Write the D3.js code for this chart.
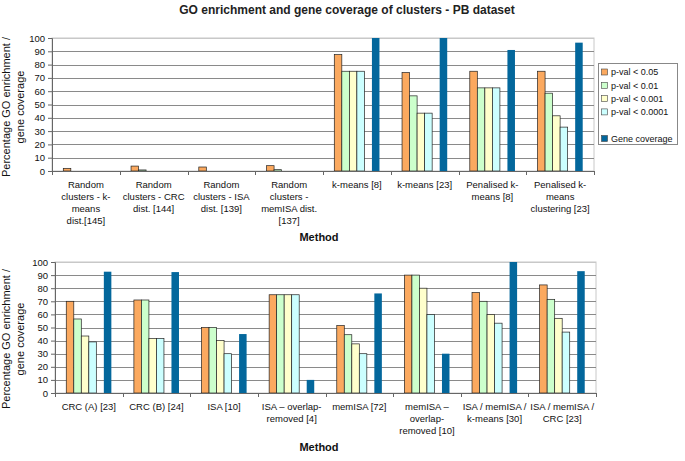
<!DOCTYPE html>
<html><head><meta charset="utf-8">
<script src="https://cdn.jsdelivr.net/npm/d3@7"></script>
<style>body{margin:0;background:#fff}svg{font-family:"Liberation Sans",Arial,sans-serif}</style>
</head><body><svg id="c" width="685" height="461"></svg>
<script>
const seriesKeys = ["p05","p01","p001","p0001","blank","gene"];
const seriesNames = ["p-val < 0.05","p-val < 0.01","p-val < 0.001","p-val < 0.0001","","Gene coverage"];
const seriesColors = ["#FBA95F","#CCFFCC","#FFFFCC","#CCFFFF",null,"#03679C"];
const yTicks = [0,10,20,30,40,50,60,70,80,90,100];

const topCategories = [
  ["Random","clusters - k-","means","dist.[145]"],
  ["Random","clusters - CRC","dist. [144]"],
  ["Random","clusters - ISA","dist. [139]"],
  ["Random","clusters -","memISA dist.","[137]"],
  ["k-means [8]"],
  ["k-means [23]"],
  ["Penalised k-","means [8]"],
  ["Penalised k-","means","clustering [23]"]
];
const topP05   = [2, 3.7, 3, 4, 87.5, 74, 75, 75];
const topP01   = [0, 0.8, 0, 1, 75, 56.5, 62.5, 58.5];
const topP001  = [0, 0, 0, 0, 75, 43.5, 62.5, 41.5];
const topP0001 = [0, 0, 0, 0, 75, 43.5, 62.5, 33];
const topGene  = [0, 0, 0, 0, 100, 100, 91, 96.5];

const botCategories = [
  ["CRC (A) [23]"],
  ["CRC (B) [24]"],
  ["ISA [10]"],
  ["ISA \u2013 overlap-","removed [4]"],
  ["memISA [72]"],
  ["memISA \u2013","overlap-","removed [10]"],
  ["ISA / memISA /","k-means [30]"],
  ["ISA / memISA /","CRC [23]"]
];
const botP05   = [70, 71, 50, 75, 51.5, 90, 76.7, 82.5];
const botP01   = [56.5, 71, 50, 75, 44.5, 90, 70, 71.5];
const botP001  = [43.5, 41.7, 40, 75, 37.5, 80, 60, 57];
const botP0001 = [39, 41.7, 30, 75, 30, 60, 53.3, 46.5];
const botGene  = [92.6, 92.3, 45, 10, 76, 30, 100, 93];

const svg = d3.select("#c");

svg.append("text").attr("x",347).attr("y",14).attr("text-anchor","middle")
  .attr("font-size","12px").attr("font-weight","bold").attr("fill","#222")
  .text("GO enrichment and gene coverage of clusters - PB dataset");

function drawPanel(cfg){
  const {cats, series, left, right, top, bottom, labelY, yTitleCY, methodY} = cfg;
  const g = svg.append("g");
  const idx = d3.range(cats.length);
  const x0 = d3.scaleBand().domain(idx).range([left,right]).paddingInner(1/3).paddingOuter(1/6);
  const x1 = d3.scaleBand().domain(seriesKeys).range([0,x0.bandwidth()]);
  const y = d3.scaleLinear().domain([0,100]).range([bottom,top]);
  const step = (right-left)/cats.length;

  g.append("rect").attr("x",left).attr("y",top).attr("width",right-left).attr("height",bottom-top)
    .attr("fill","#fff").attr("stroke","#c8c8c8").attr("stroke-width",1);
  g.selectAll(".grid").data(yTicks.filter(t=>t>0)).join("line")
    .attr("x1",left).attr("x2",right)
    .attr("y1",d=>Math.round(y(d))+0.5).attr("y2",d=>Math.round(y(d))+0.5)
    .attr("stroke",d=>d===100?"#c8c8c8":"#8a8a8a").attr("stroke-width",1);

  const rows = idx.map(i=>({i, vals: series.map(s=>s[i])}));
  const grp = g.selectAll(".grp").data(rows).join("g").attr("transform",d=>`translate(${x0(d.i)},0)`);
  grp.selectAll("rect").data(d=>d.vals.map((v,k)=>({k,v})).filter(e=>seriesColors[e.k] && e.v>0)).join("rect")
    .attr("x",e=>x1(seriesKeys[e.k])).attr("width",x1.bandwidth())
    .attr("y",e=>y(e.v)).attr("height",e=>y(0)-y(e.v))
    .attr("fill",e=>seriesColors[e.k])
    .attr("stroke",e=>e.k===5?"none":"#222").attr("stroke-width",0.7);

  const ya = g.append("g").attr("transform",`translate(${left},0)`)
    .call(d3.axisLeft(y).tickValues(yTicks).tickSize(4).tickPadding(3));
  ya.select(".domain").attr("stroke","#666");
  ya.selectAll(".tick line").attr("stroke","#666");
  ya.selectAll(".tick text").attr("font-size","9.5px").attr("fill","#111").attr("font-family","Liberation Sans, Arial, sans-serif");

  g.append("line").attr("x1",left).attr("x2",right).attr("y1",bottom+0.5).attr("y2",bottom+0.5).attr("stroke","#666");
  g.selectAll(".xt").data(d3.range(cats.length+1)).join("line")
    .attr("x1",d=>Math.round(left+d*step)+0.5).attr("x2",d=>Math.round(left+d*step)+0.5)
    .attr("y1",bottom).attr("y2",bottom+4).attr("stroke","#666");
  const lab = g.selectAll(".cl").data(idx).join("text")
    .attr("text-anchor","middle").attr("font-size","9.5px").attr("fill","#111")
    .attr("transform",d=>`translate(${x0(d)+x0.bandwidth()/2},${labelY})`);
  lab.selectAll("tspan").data(d=>cats[d]).join("tspan").attr("x",0).attr("dy",(d,i)=>i===0?0:12).text(d=>d);

  const yt = g.append("text").attr("transform",`translate(10,${yTitleCY}) rotate(-90)`)
    .attr("text-anchor","middle").attr("font-size","11px").attr("fill","#111");
  yt.append("tspan").attr("x",0).attr("dy",0).text("Percentage GO enrichment /");
  yt.append("tspan").attr("x",0).attr("dy",14).text("gene coverage");

  g.append("text").attr("x",319).attr("y",methodY).attr("text-anchor","middle")
    .attr("font-size","11px").attr("font-weight","bold").attr("fill","#111").text("Method");
}

drawPanel({cats:topCategories, series:[topP05,topP01,topP001,topP0001,topP0001.map(()=>0),topGene],
  left:52,right:594,top:38,bottom:171,labelY:188,yTitleCY:107,methodY:241});
drawPanel({cats:botCategories, series:[botP05,botP01,botP001,botP0001,botP0001.map(()=>0),botGene],
  left:55,right:596,top:262,bottom:393,labelY:410,yTitleCY:339,methodY:451});

const lg = svg.append("g");
lg.append("rect").attr("x",598.5).attr("y",63.5).attr("width",79).attr("height",81)
  .attr("fill","#fff").attr("stroke","#888");
const ly = d3.scalePoint().domain(d3.range(seriesNames.length)).range([72,138.5]);
const li = lg.selectAll(".li").data(d3.range(seriesNames.length).filter(k=>seriesColors[k])).join("g")
  .attr("transform",k=>`translate(601,${ly(k)})`);
li.append("rect").attr("x",0.5).attr("y",-3).attr("width",6).attr("height",6)
  .attr("fill",k=>seriesColors[k]).attr("stroke","#444").attr("stroke-width",0.6);
li.append("text").attr("x",10).attr("y",3.3).attr("font-size","9px").attr("fill","#111").text(k=>seriesNames[k]);
</script></body></html>
